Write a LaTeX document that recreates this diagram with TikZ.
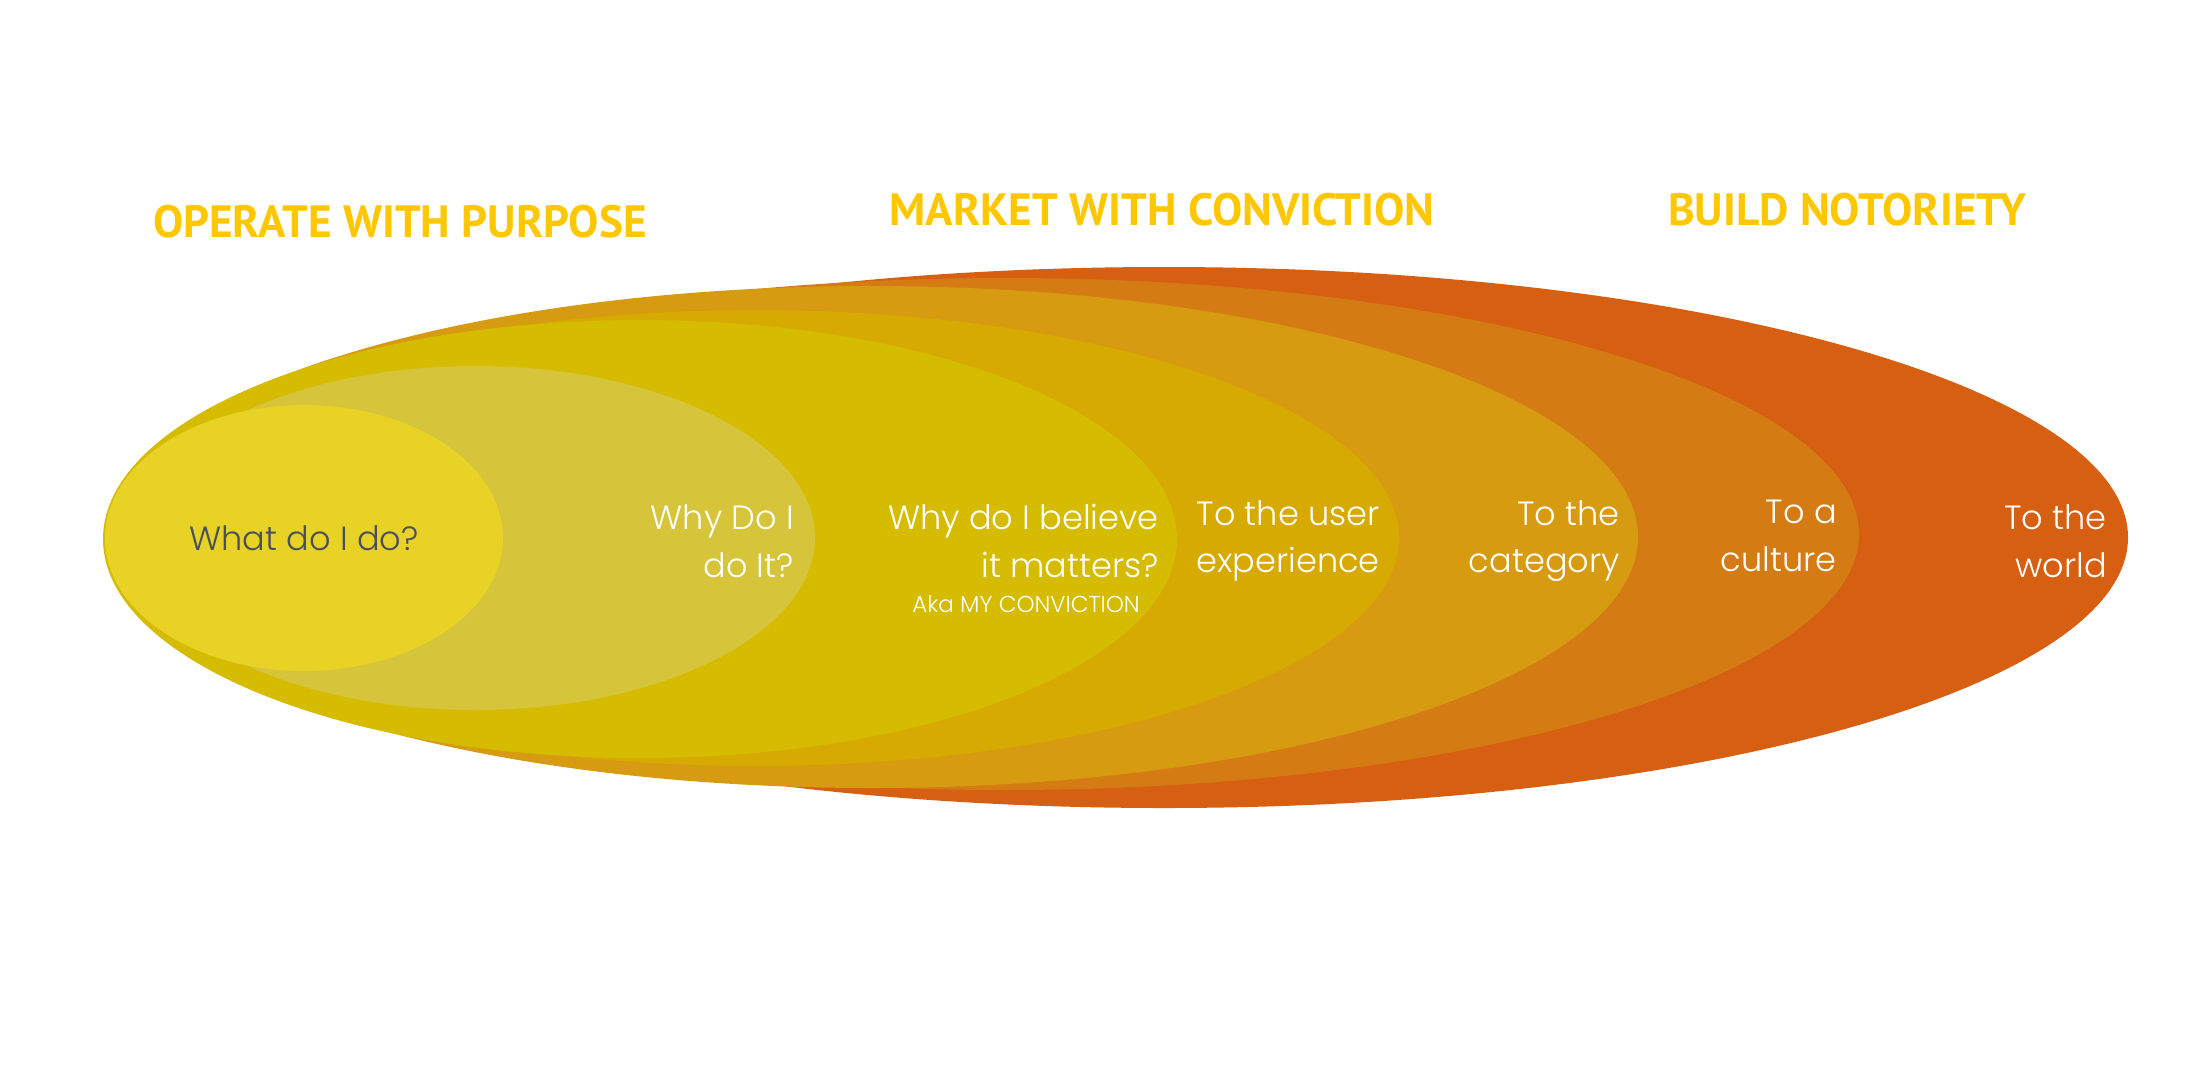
\documentclass[tikz,border=0pt]{standalone}
\usepackage{fontspec}
\setmainfont{Poppins Light}
\newfontfamily\titlefont{PT Sans Bold}
\usetikzlibrary{shapes.geometric}
\definecolor{cRed}{HTML}{D65F12}
\definecolor{cOrange}{HTML}{D47B14}
\definecolor{cAmber}{HTML}{D69B10}
\definecolor{cGold}{HTML}{D6AA00}
\definecolor{cYellow}{HTML}{D6BC00}
\definecolor{cLight}{HTML}{D6C43A}
\definecolor{cInner}{HTML}{E8D226}
\definecolor{cTitle}{HTML}{FFC700}
\definecolor{cDark}{HTML}{4B4F5C}
\tikzset{
  layer/.style={ellipse, inner sep=0pt, draw=none},
  heading/.style={text=cTitle, font=\titlefont\fontsize{45.3}{50}\selectfont, inner sep=0pt},
  lbl/.style={text=white, align=right, anchor=east, inner sep=0pt, font=\fontsize{33.6}{47.5}\selectfont},
}
\begin{document}
\begin{tikzpicture}[x=1pt,y=-1pt]
\useasboundingbox[fill=white] (0,0) rectangle (2192,1088);
% layers
\node[layer, fill=cRed, minimum width=1928pt, minimum height=541pt] (e1) at (1164,537.5) {};
\node[layer, fill=cOrange, minimum width=1709pt, minimum height=512pt] (e2) at (1004.5,534) {};
\node[layer, fill=cAmber, minimum width=1534pt, minimum height=502pt] (e3) at (871,537) {};
\node[layer, fill=cGold, minimum width=1287pt, minimum height=456pt] (e4) at (755.5,538) {};
\node[layer, fill=cYellow, minimum width=1074pt, minimum height=438pt] (e5) at (640,539) {};
\node[layer, fill=cLight, minimum width=680pt, minimum height=344pt] (e6) at (475,538) {};
\node[layer, fill=cInner, minimum width=398pt, minimum height=266pt] (e7) at (304,538) {};
% headings
\node[heading] (h1) at (400,222) {OPERATE WITH PURPOSE};
\node[heading] (h2) at (1162,210) {MARKET WITH CONVICTION};
\node[heading] (h3) at (1847,210) {BUILD NOTORIETY};
% labels
\node[text=cDark, inner sep=0pt, font=\fontsize{33.6}{47.5}\selectfont] (t7) at (304,538) {What do I do?};
\node[lbl] (t6) at (794,541) {Why Do I\\do It?};
\node[lbl] (t5) at (1159,541) {Why do I believe\\it matters?};
\node[text=white, inner sep=0pt, font=\fontsize{23}{28}\selectfont] (aka) at (1026,604) {Aka MY CONVICTION};
\node[lbl] (t4) at (1380,541) {To the user\\experience};
\node[lbl] (t3) at (1620,541) {To the\\category};
\node[lbl] (t2) at (1837,536) {To a\\culture};
\node[lbl] (t1) at (2107,541) {To the\\world};
\end{tikzpicture}
\end{document}
